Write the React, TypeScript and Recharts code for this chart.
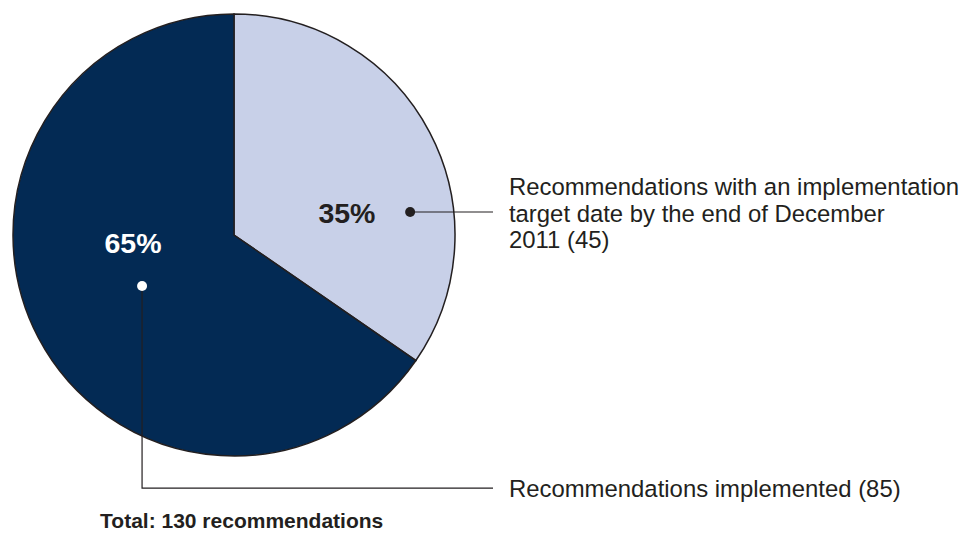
import React from "react";
import { PieChart, Pie, Cell } from "recharts";

const categories = [
  "Recommendations with an implementation target date by the end of December 2011",
  "Recommendations implemented",
];
const counts = [45, 85];
const sliceColors = ["#c8d0e8", "#032a54"];
const percentColors = ["#231f20", "#ffffff"];
const dotColors = ["#231f20", "#ffffff"];
const calloutLines = [
  ["Recommendations with an implementation", "target date by the end of December", "2011"],
  ["Recommendations implemented"],
];
const totalUnit = "recommendations";

const data = categories.map((name, i) => ({ name, value: counts[i] }));
const total = counts.reduce((a, b) => a + b, 0);

const FONT = "'Liberation Sans', Arial, Helvetica, sans-serif";
const INK = "#231f20";

const renderLabel = (props: any) => {
  const { cx, cy, outerRadius: r, percent, index, value } = props;
  const pct = `${Math.round(percent * 100)}%`;
  const textX = cx + 1.244 * r;
  const lines = calloutLines[index].map((l, k, arr) =>
    k === arr.length - 1 ? `${l} (${value})` : l
  );
  if (index === 0) {
    const dotX = cx + 0.797 * r;
    const dotY = cy - 0.104 * r;
    return (
      <g key="lbl0">
        <text x={cx + 0.511 * r} y={cy - 0.1 * r + 10} textAnchor="middle" fontFamily={FONT} fontWeight="bold" fontSize={28.5} fill={percentColors[0]}>
          {pct}
        </text>
        <line x1={dotX} y1={dotY} x2={cx + 1.172 * r} y2={dotY} stroke={INK} strokeWidth={1.2} />
        <circle cx={dotX} cy={dotY} r={5} fill={dotColors[0]} />
        {lines.map((l, k) => (
          <text key={k} x={textX} y={dotY - 17 + k * 26.5} fontFamily={FONT} fontSize={23.9} fill={INK}>
            {l}
          </text>
        ))}
      </g>
    );
  }
  const dotX = cx - 0.416 * r;
  const dotY = cy + 0.231 * r;
  const lineY = cy + 1.145 * r;
  return (
    <g key="lbl1">
      <text x={cx - 0.457 * r} y={cy + 0.036 * r + 10} textAnchor="middle" fontFamily={FONT} fontWeight="bold" fontSize={28.5} fill={percentColors[1]}>
        {pct}
      </text>
      <polyline points={`${dotX},${dotY} ${dotX},${lineY} ${cx + 1.172 * r},${lineY}`} fill="none" stroke={INK} strokeWidth={1.2} />
      <circle cx={dotX} cy={dotY} r={5} fill={dotColors[1]} />
      {lines.map((l, k) => (
        <text key={k} x={textX} y={lineY + 8.5 + k * 26.5} fontFamily={FONT} fontSize={23.9} fill={INK}>
          {l}
        </text>
      ))}
      <text x={cx - 0.606 * r} y={cy + 1.326 * r} fontFamily={FONT} fontWeight="bold" fontSize={21} fill={INK}>
        {`Total: ${total} ${totalUnit}`}
      </text>
    </g>
  );
};

export default function App() {
  return (
    <div style={{ position: "absolute", left: 0, top: 0, width: 964, height: 535, background: "#fff" }}>
      <PieChart width={964} height={535} margin={{ top: 0, right: 0, bottom: 0, left: 0 }}>
        <Pie
          data={data}
          dataKey="value"
          nameKey="name"
          cx={234}
          cy={235}
          outerRadius={221}
          startAngle={90}
          endAngle={-270}
          stroke="#231f20"
          strokeWidth={1.5}
          label={renderLabel}
          labelLine={false}
          isAnimationActive={false}
        >
          {data.map((d, i) => (
            <Cell key={d.name} fill={sliceColors[i]} />
          ))}
        </Pie>
      </PieChart>
    </div>
  );
}
